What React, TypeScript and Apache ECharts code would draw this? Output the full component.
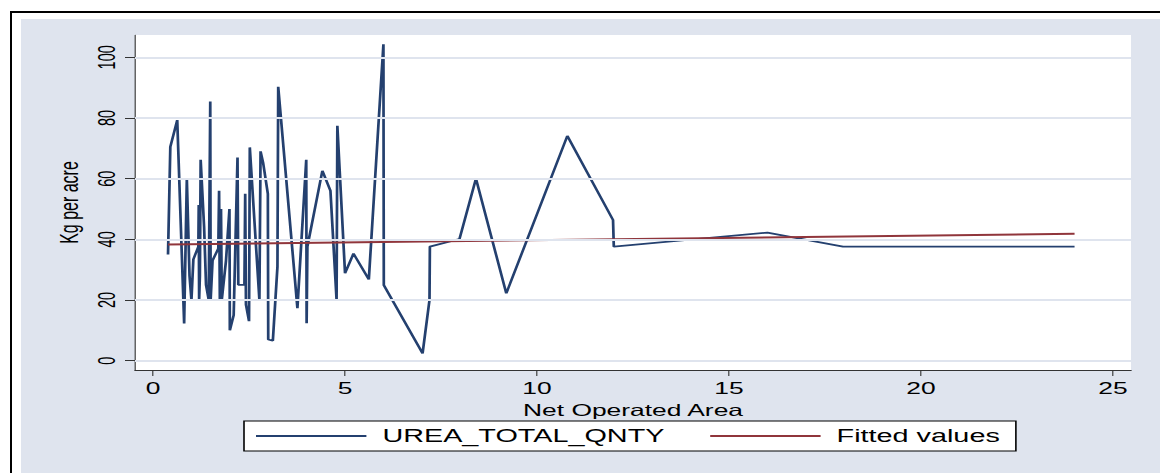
import React, { useEffect, useRef } from "react";
import * as echarts from "echarts";

// ---- data ----
const areaX = [0.39, 0.45, 0.63, 0.81, 0.88, 0.95, 1.0, 1.05, 1.18, 1.19, 1.2, 1.22, 1.24, 1.33, 1.38, 1.45, 1.49, 1.5, 1.55, 1.7, 1.72, 1.74, 1.77, 1.79, 1.9, 1.99, 2.0, 2.1, 2.2, 2.22, 2.38, 2.4, 2.42, 2.5, 2.52, 2.77, 2.8, 2.87, 2.99, 3.0, 3.12, 3.24, 3.26, 3.76, 3.99, 4.0, 4.02, 4.41, 4.62, 4.78, 4.8, 5.0, 5.22, 5.62, 6.0, 6.01, 7.02, 7.2, 7.21, 7.98, 8.41, 9.2, 10.79, 11.98, 12.0, 16.0, 17.97, 24.0];
const ureaQnty = [35, 70.5, 79.3, 12.3, 60, 28, 20, 33.4, 37.6, 51.3, 20, 28, 66.2, 44, 25, 20, 85.4, 20, 33, 37, 56, 20, 50, 20, 33, 50, 10, 15, 67, 25, 25, 55, 18.5, 13, 70.3, 20, 69, 65, 55, 7, 6.6, 31, 90.3, 17.3, 66.2, 12.3, 37.6, 62.6, 56, 20, 77.4, 28.8, 35.3, 26.8, 104.3, 24.9, 2.4, 20, 37.6, 40.1, 60, 22.2, 74.1, 46.4, 37.6, 42.2, 37.6, 37.6];
const fitX = [0.39, 24];
const fitY = [38.3, 41.8];
const xTicks = [0, 5, 10, 15, 20, 25];
const yTicks = [0, 20, 40, 60, 80, 100];
const seriesNames = ["UREA_TOTAL_QNTY", "Fitted values"];

const S = 1.6; // horizontal stretch of the reference
const W = 1160 / S;
const H = 473;
const FONT = "'Liberation Sans', Arial, sans-serif";

export default function App() {
  const ref = useRef<HTMLDivElement>(null);
  useEffect(() => {
    document.body.style.margin = "0";
    document.body.style.overflow = "hidden";
    const chart = echarts.init(ref.current!, null, { renderer: "svg", width: W, height: H });
    const plotLeft = 135 / S;
    const plotRight = 1131 / S;
    chart.setOption({
      animation: false,
      backgroundColor: "#ffffff",
      textStyle: { fontFamily: FONT },
      graphic: [
        { type: "rect", z: -10, shape: { x: 10 / S, y: 11, width: W, height: 2 }, style: { fill: "#000" } },
        { type: "rect", z: -10, shape: { x: 10 / S, y: 11, width: 2 / S, height: H }, style: { fill: "#000" } },
        { type: "rect", z: -10, shape: { x: 21 / S, y: 19, width: W, height: H }, style: { fill: "#dfe4ee" } },
      ],
      grid: {
        left: plotLeft,
        right: W - plotRight,
        top: 35,
        bottom: H - 370,
        show: true,
        backgroundColor: "#ffffff",
        borderWidth: 0,
        containLabel: false,
        outerBoundsMode: "none",
      },
      legend: {
        data: seriesNames,
        left: 244 / S,
        top: 421,
        orient: "horizontal",
        icon: "rect",
        backgroundColor: "#ffffff",
        borderColor: "#000",
        borderWidth: 1,
        padding: [5, 10, 5, 7.5],
        itemGap: 28.5,
        itemWidth: 69,
        itemHeight: 2,
        textStyle: { fontSize: 18, fontFamily: FONT, color: "#000", lineHeight: 20, padding: [0, 0, 0, 5] },
      },
      xAxis: {
        type: "value",
        min: -0.47,
        max: 25.47,
        name: "Net Operated Area",
        nameLocation: "middle",
        nameGap: 24,
        nameTextStyle: { fontSize: 16.5, fontFamily: FONT, color: "#000", lineHeight: 17 },
        axisLine: { show: true, onZero: false, lineStyle: { color: "#333", width: 1 } },
        axisTick: { show: true, inside: false, length: 6, customValues: xTicks, lineStyle: { color: "#333", width: 0.7 } },
        axisLabel: { customValues: xTicks, fontSize: 16.5, lineHeight: 17, margin: 9.5, color: "#000", fontFamily: FONT },
        splitLine: { show: false },
      },
      yAxis: {
        type: "value",
        min: -3.07,
        max: 107.35,
        name: "Kg per acre",
        nameLocation: "middle",
        nameGap: 28,
        nameTextStyle: { fontSize: 16, fontFamily: FONT, color: "#000", lineHeight: 16 },
        axisLine: { show: true, onZero: false, lineStyle: { color: "#333", width: 0.7 } },
        axisTick: { show: true, inside: false, length: 6.25, customValues: yTicks, lineStyle: { color: "#333", width: 1 } },
        axisLabel: { customValues: yTicks, rotate: 90, fontSize: 14.5, lineHeight: 14, margin: 10.5, color: "#000", fontFamily: FONT },
        splitLine: { show: false },
      },
      series: [
        {
          name: "grid",
          type: "line",
          data: [],
          z: 1,
          silent: true,
          markLine: {
            silent: true,
            symbol: "none",
            label: { show: false },
            lineStyle: { color: "#dfe4ee", width: 1.8, type: "solid" },
            data: yTicks.map((v) => ({ yAxis: v })),
          },
        },
        {
          name: seriesNames[0],
          type: "line",
          z: 3,
          symbol: "none",
          data: areaX.map((x, i) => [x, ureaQnty[i]]),
          lineStyle: { color: "#24406f", width: 1.7 },
          itemStyle: { color: "#24406f" },
        },
        {
          name: seriesNames[1],
          type: "line",
          z: 4,
          symbol: "none",
          data: fitX.map((x, i) => [x, fitY[i]]),
          lineStyle: { color: "#90353b", width: 2 },
          itemStyle: { color: "#90353b" },
        },
      ],
    });
    return () => chart.dispose();
  }, []);
  return (
    <div
      ref={ref}
      style={{ width: W + "px", height: H + "px", transform: `scaleX(${S})`, transformOrigin: "0 0" }}
    />
  );
}
